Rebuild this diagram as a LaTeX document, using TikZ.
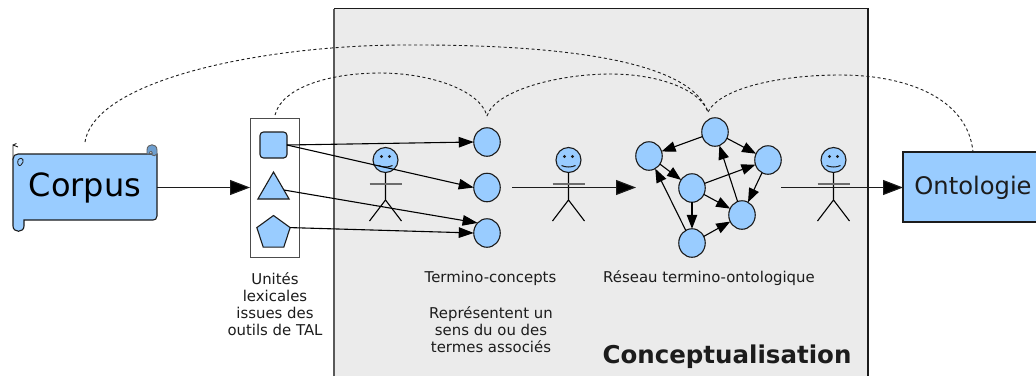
\documentclass[tikz,border=0pt]{standalone}
\usepackage{fontspec}
\setmainfont{DejaVu Sans}
\usetikzlibrary{arrows.meta,shapes.geometric}
\definecolor{fillblue}{HTML}{99CCFF}
\definecolor{darkblue}{HTML}{6E9FD0}
\definecolor{panel}{HTML}{EBEBEB}
\definecolor{edge}{HTML}{1C1C1C}
\tikzset{
  conc/.style={ellipse,draw=edge,fill=fillblue,line width=1.1pt,minimum width=26.5pt,minimum height=28.5pt,inner sep=0pt,outer sep=0pt},
  bigarrow/.style={draw=edge,line width=1.1pt,-{Triangle[length=20pt,width=15pt,fill=black]}},
  midarrow/.style={draw=black,line width=1.1pt,-{Triangle[length=15pt,width=10.5pt,fill=black]}},
  netarrow/.style={draw=black,line width=1.1pt,-{Triangle[length=14pt,width=10.5pt,fill=black]}},
  dashcurve/.style={draw=edge,line width=.9pt,dash pattern=on 3pt off 2.6pt},
  smalltext/.style={align=center,inner sep=0pt,text=edge,font=\fontsize{14.9}{17}\selectfont},
  shapefill/.style={draw=edge,fill=fillblue,line width=1.1pt,inner sep=0pt,outer sep=0pt},
}
\newcommand{\stickman}[3]{%
  \node[circle,draw=edge,fill=fillblue,line width=1.1pt,minimum size=25pt,inner sep=0pt,outer sep=0pt] (#3) at (#1,#2) {};
  \fill[edge] (#1-4,#2-3.5) circle (1.7pt) (#1+4,#2-3.5) circle (1.7pt);
  \draw[edge,line width=1pt] (#1-7,#2+5.5) .. controls (#1-3,#2+7.5) and (#1+3,#2+7.5) .. (#1+7,#2+5.5);
  \draw[black,line width=1.1pt] (#3.south) -- (#1,#2+40) -- (#1-16,#2+61) (#1,#2+40) -- (#1+16,#2+61);
  \draw[gray!85!black,line width=1.3pt] (#1-16,#2+24) -- (#1+16,#2+24);
}
\begin{document}
\begin{tikzpicture}[x=1pt,y=-1pt]
\useasboundingbox (0,0) rectangle (1036,376);
% panel
\fill[panel] (334,8.5) rectangle (868,376);
\draw[gray!70!black,line width=1.3pt] (334,376) -- (334,8.5);
\draw[edge,line width=1.1pt] (334,8.5) -- (868,8.5) -- (868,376);
% corpus scroll
\draw[edge,line width=.9pt] (13,160) -- (13,145) -- (18,147) (13,145) -- (16.5,143.5);
\path[draw=edge,fill=fillblue,line width=1.1pt]
  (13,159) .. controls (13,156) and (15,154) .. (18,154)
  -- (147,154) -- (157,154)
  -- (157,216) .. controls (157,219) and (155,220) .. (153,220)
  -- (24,220) -- (24,226) .. controls (24,233) and (13,233) .. (13,226) -- cycle;
\node[inner sep=0pt,font=\fontsize{32}{38}\selectfont] (corpus) at (85,188) {Corpus};
\path[draw=edge!70,fill=darkblue,line width=.9pt] (147,154) -- (147,150) .. controls (147,143) and (157,143) .. (157,150) -- (157,154) .. controls (156,156) and (153,156) .. (152,155) .. controls (153,151) and (150,150) .. (149,154) -- cycle;
\draw[edge,line width=.8pt] (18,160) .. controls (23,155) and (25,162) .. (21,165) .. controls (19,167) and (17,164) .. (18,160);
% units box
\node[draw=gray!60!black,fill=white,line width=1pt,minimum width=49pt,minimum height=139pt,inner sep=0pt,outer sep=0pt] (units) at (274.5,187.5) {};
\node[shapefill,rounded corners=3.5pt,minimum width=27pt,minimum height=26pt] (sq) at (273.5,145) {};
\node[shapefill,regular polygon,regular polygon sides=3,minimum size=36pt] (tri) at (273.5,190) {};
\node[shapefill,regular polygon,regular polygon sides=5,minimum size=35pt] (pent) at (273.5,233) {};
% circles
\node[conc] (c1) at (487,142) {};
\node[conc] (c2) at (487,187.5) {};
\node[conc] (c3) at (487,233) {};
\node[conc] (n1) at (715,132) {};
\node[conc] (n2) at (649,156) {};
\node[conc] (n3) at (768,160) {};
\node[conc] (n4) at (692,188) {};
\node[conc] (n5) at (742,215) {};
\node[conc] (n6) at (692,243) {};
% onto
\node[draw=edge,fill=fillblue,line width=1.1pt,minimum width=140pt,minimum height=70pt,inner sep=0pt,outer sep=0pt] (onto) at (973,187) {};
\node[inner sep=0pt,text=edge,font=\fontsize{24.2}{30}\selectfont] (ontotext) at (973,188) {Ontologie};
% anchors for free ends
\coordinate (corpusR) at (157,187.5);
\coordinate (g1) at (512,187.5);
\coordinate (g2) at (636,187.5);
\coordinate (g3) at (781,187.5);
\coordinate (d0) at (85,142);
\coordinate (d1) at (275,115);
\coordinate (d2) at (487,116);
\coordinate (d3) at (708,112);
\coordinate (d4) at (973,152);
% big arrows
\draw[bigarrow] (corpusR) -- (units.west |- corpusR);
\stickman{385.5}{160}{a1}
\stickman{568.5}{160}{a2}
\stickman{833.5}{160}{a3}
\draw[bigarrow] (g1) -- (g2);
\draw[bigarrow] (g3) -- (onto.west |- g3);
% to circles
\draw[midarrow] (sq.east) -- (c1.west);
\draw[midarrow] (sq.east) -- (c2.west);
\draw[midarrow] (tri.east) -- (c3.north west);
\draw[midarrow] (pent.corner 5) -- (c3.west);
% network
\draw[netarrow] (n1) -- (n2);
\draw[netarrow] (n1) -- (n3);
\draw[netarrow] (n2) -- (n4);
\draw[netarrow] (n4) -- (n3);
\draw[netarrow] (n4) -- (n5);
\draw[netarrow] (n4) -- (n6);
\draw[netarrow] (n6) -- (n2);
\draw[netarrow] (n6) -- (n5);
\draw[netarrow] (n5) -- (n1);
\draw[netarrow] (n3) -- (n5);
% dashed curves
\draw[dashcurve] (d0) .. controls (95,80) and (260,46) .. (400,45) .. controls (560,44) and (690,60) .. (d3);
\draw[dashcurve] (d1) .. controls (283,85) and (335,73) .. (380,73) .. controls (430,73) and (480,90) .. (d2);
\draw[dashcurve] (d2) .. controls (495,90) and (560,74) .. (610,74) .. controls (660,74) and (700,90) .. (d3);
\draw[dashcurve] (d3) .. controls (720,88) and (780,75) .. (840,75) .. controls (910,75) and (968,100) .. (d4);
% text
\node[smalltext] (t1) at (275,304) {Unités\\lexicales\\issues des\\outils de TAL};
\node[smalltext] (t2) at (490.5,278.5) {Termino-concepts};
\node[smalltext] (t3) at (491,329.5) {Représentent un\\sens du ou des\\termes associés};
\node[smalltext] (t4) at (709,278.5) {Réseau termino-ontologique};
\node[inner sep=0pt,text=edge,font=\bfseries\fontsize{24.5}{30}\selectfont] (t5) at (727,357) {Conceptualisation};
\end{tikzpicture}
\end{document}
